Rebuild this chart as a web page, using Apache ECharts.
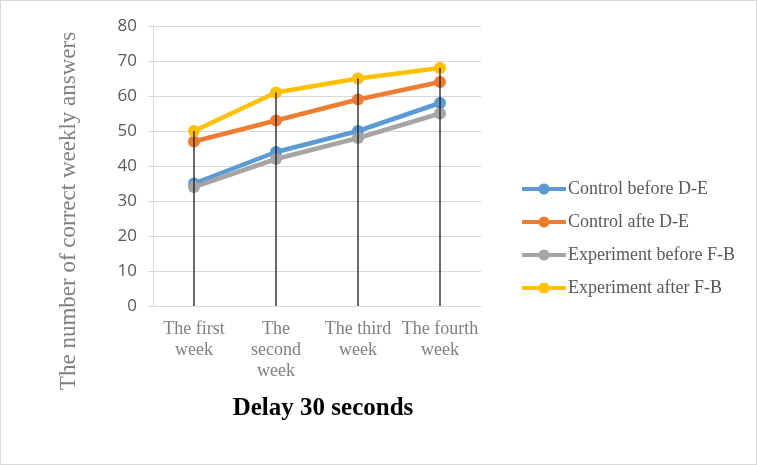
<!DOCTYPE html>
<html><head><meta charset="utf-8">
<script src="https://cdn.jsdelivr.net/npm/echarts@6/dist/echarts.min.js"></script>
<style>html,body{margin:0;padding:0;background:#fff}#c{width:755px;height:463px;border:1px solid #d9d9d9}</style>
</head><body><div id="c"></div>
<script>
const categories = ['The first\nweek', 'The\nsecond\nweek', 'The third\nweek', 'The fourth\nweek'];
const controlBefore = [35, 44, 50, 58];
const controlAfter = [47, 53, 59, 64];
const experimentBefore = [34, 42, 48, 55];
const experimentAfter = [50, 61, 65, 68];
const seriesNames = ['Control before D-E', 'Control afte D-E', 'Experiment before F-B', 'Experiment after F-B'];
const yTitle = 'The number of correct weekly answers';
const chartTitle = 'Delay 30 seconds';

const allSeries = [controlBefore, controlAfter, experimentBefore, experimentAfter];
const colors = ['#5b9bd5', '#ed7d31', '#a5a5a5', '#ffc000'];
const dropTops = categories.map((_, i) => Math.max(...allSeries.map(s => s[i])));

const chart = echarts.init(document.getElementById('c'));
const serif = '"Liberation Serif", "Times New Roman", serif';
chart.setOption({
  animation: false,
  title: {
    text: chartTitle, left: 317, top: 390, textAlign: 'center',
    textStyle: { fontFamily: serif, fontWeight: 'bold', fontSize: 25, color: '#000' }
  },
  graphic: [{
    type: 'text', x: 68, y: 210, rotation: Math.PI / 2,
    style: { text: yTitle, fontFamily: serif, fontSize: 23, fill: '#808080', align: 'center', verticalAlign: 'middle' }
  }],
  legend: {
    data: seriesNames, orient: 'vertical', left: 514, top: 174,
    itemWidth: 44, itemHeight: 14, itemGap: 15,
    lineStyle: { width: 4 },
    textStyle: { fontFamily: serif, fontSize: 18, color: '#595959', padding: [0, 0, 0, -3] }
  },
  grid: { left: 152, right: 275, top: 25, bottom: 158, containLabel: false },
  xAxis: {
    type: 'category', data: categories, boundaryGap: true,
    axisLine: { lineStyle: { color: '#d9d9d9', width: 1 } },
    axisTick: { show: false },
    axisLabel: { fontFamily: serif, fontSize: 18, color: '#808080', lineHeight: 21, margin: 13, interval: 0 }
  },
  yAxis: {
    type: 'value', min: 0, max: 80, interval: 10,
    axisLine: { show: true, lineStyle: { color: '#d9d9d9' } },
    axisTick: { show: true, length: 5, lineStyle: { color: '#d9d9d9' } },
    axisLabel: { fontFamily: '"Open Sans", "DejaVu Sans", sans-serif', fontSize: 17, color: '#595959', margin: 16 },
    splitLine: { lineStyle: { color: '#d9d9d9', width: 1 } }
  },
  series: [
    ...allSeries.map((d, i) => ({
      name: seriesNames[i], type: 'line', data: d,
      color: colors[i], symbol: 'circle', symbolSize: 12, showAllSymbol: true,
      lineStyle: { width: 4.5, color: colors[i] },
      itemStyle: { color: colors[i] }, z: 2 + i
    })),
    {
      name: 'drop', type: 'bar', data: dropTops, barWidth: 1.3,
      itemStyle: { color: '#1a1a1a' }, z: 10, silent: true
    }
  ]
});
</script></body></html>
